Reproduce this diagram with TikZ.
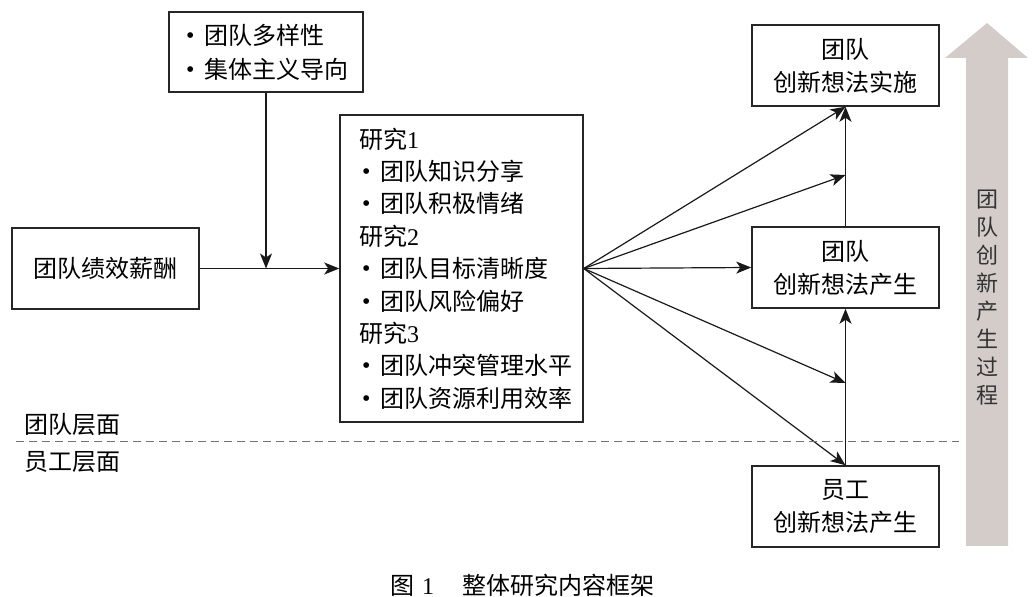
\documentclass[tikz,border=0pt]{standalone}
\usepackage{fontspec}
\setmainfont{Liberation Serif}
\newfontfamily\cjk{Noto Sans CJK SC}
\usepackage{tikz}
\usetikzlibrary{arrows.meta}
\definecolor{procgray}{RGB}{211,204,201}
\newcommand{\itm}{\hspace*{1.5pt}\makebox[9pt][l]{\rmfamily\raisebox{0.04em}{\textbullet}}}

\begin{document}
\begin{tikzpicture}[x=0.5pt, y=-0.5pt,
  box/.style={draw=black!85, line width=0.75pt, minimum width=93.5pt, minimum height=40.5pt,
    inner sep=0pt, align=center, font=\cjk\fontsize{12}{16.5}\selectfont},
  arr/.style={-{Stealth[length=7.5pt,width=6pt,inset=2pt]}, line width=0.6pt, draw=black!90}]

\useasboundingbox (0,0) rectangle (1032,597);

\node[box, minimum width=97pt, minimum height=40pt, text width=83pt, align=left,
  font=\cjk\fontsize{12}{17}\selectfont] (mod) at (266,52) {\itm 团队多样性\\ \itm 集体主义导向};
\node[box] (pay) at (105.5,268.5) {团队绩效薪酬};
\node[box, minimum width=121.5pt, minimum height=153.5pt, text width=102.5pt, align=left,
  font=\cjk\fontsize{12}{16.2}\selectfont] (main) at (461.5,268.5)
  {研究{\rmfamily 1}\\ \itm 团队知识分享\\ \itm 团队积极情绪\\
   研究{\rmfamily 2}\\ \itm 团队目标清晰度\\ \itm 团队风险偏好\\
   研究{\rmfamily 3}\\ \itm 团队冲突管理水平\\ \itm 团队资源利用效率};

\node[box] (impl) at (845.5,65.5) {团队\\创新想法实施};
\node[box] (gen) at (845.5,267.5) {团队\\创新想法产生};
\node[box] (emp) at (845.5,506.5) {员工\\创新想法产生};

\coordinate (j) at (mod.south |- pay.east);
\coordinate (up) at (845.5,175);
\coordinate (dn) at (845.5,383);

\draw[arr] (pay) -- (main);
\draw[arr] (mod) -- (j);

\draw[arr] (main.east) -- (impl.south);
\draw[arr] (main.east) -- (up);
\draw[arr] (main.east) -- (gen.west);
\draw[arr] (main.east) -- (dn);
\draw[arr] (main.east) -- (emp.north);
\draw[arr] (gen) -- (impl);
\draw[arr] (emp) -- (gen);

% process arrow
\fill[procgray] (966,546) -- (966,58) -- (945,58) -- (987,23) -- (1028,58) -- (1008,58) -- (1008,546) -- cycle;
\node[font=\cjk\fontsize{11}{14}\selectfont, align=center, text=black!80, inner sep=0pt] (proc) at (987,298)
  {团\\队\\创\\新\\产\\生\\过\\程};

% levels
\draw[black!55, line width=0.4pt, dash pattern=on 4pt off 2.5pt] (16,441) -- (959,441);
\node[anchor=west, inner sep=0pt, font=\cjk\fontsize{12}{14}\selectfont] (teamlv) at (24,425) {团队层面};
\node[anchor=west, inner sep=0pt, font=\cjk\fontsize{12}{14}\selectfont] (emplv) at (24,462) {员工层面};

\node[font=\cjk\fontsize{12}{14}\selectfont] (cap) at (522,585) {图\hspace{4pt}{\rmfamily 1}\hspace{14pt}整体研究内容框架};

\end{tikzpicture}
\end{document}
